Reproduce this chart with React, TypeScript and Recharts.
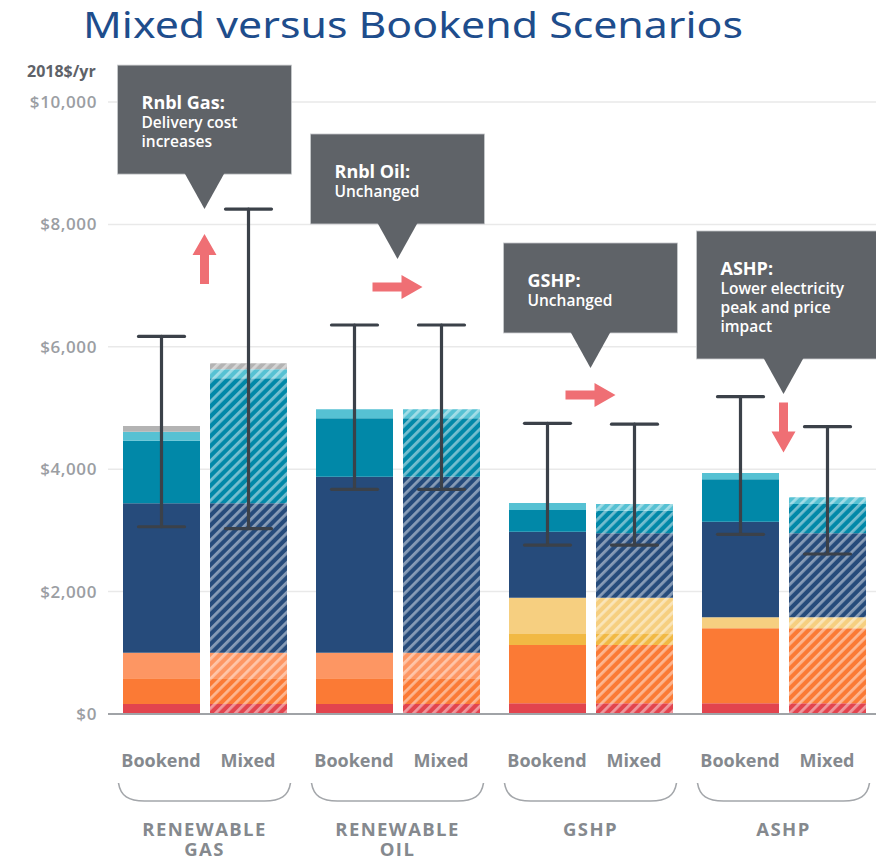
import React from "react";
import { BarChart, Bar, XAxis, YAxis, CartesianGrid, ErrorBar, ReferenceDot } from "recharts";

const categories = ["RENEWABLE GAS", "RENEWABLE OIL", "GSHP", "ASHP"];
const groupLines = [["RENEWABLE", "GAS"], ["RENEWABLE", "OIL"], ["GSHP"], ["ASHP"]];
const scenarios = ["Bookend", "Mixed"];
const yTicks = [0, 2000, 4000, 6000, 8000, 10000];

// stacked cost segments, bottom to top (2018$/yr)
const bookendRed = [165, 165, 174, 174];
const bookendOrange = [418, 418, 953, 1226];
const bookendSalmon = [417, 417, 0, 0];
const bookendAmber = [0, 0, 180, 0];
const bookendYellow = [0, 0, 594, 180];
const bookendNavy = [2443, 2878, 1078, 1563];
const bookendTeal = [1023, 953, 354, 692];
const bookendCyan = [147, 147, 115, 103];
const bookendGray = [93, 0, 0, 0];

const mixedRed = [165, 165, 174, 174];
const mixedOrange = [418, 418, 953, 1226];
const mixedSalmon = [417, 417, 0, 0];
const mixedAmber = [0, 0, 180, 0];
const mixedYellow = [0, 0, 594, 180];
const mixedNavy = [2443, 2878, 1051, 1372];
const mixedTeal = [2042, 953, 370, 479];
const mixedCyan = [147, 147, 109, 109];
const mixedGray = [98, 0, 0, 0];

// uncertainty ranges
const bookendLow = [3060, 3671, 2761, 2936];
const bookendHigh = [6170, 6356, 4750, 5185];
const mixedLow = [3028, 3671, 2761, 2614];
const mixedHigh = [8250, 6356, 4735, 4695];

// callouts and arrows
const calloutTips = [8250, 7435, 5654, 5229];
const calloutTitles = ["Rnbl Gas:", "Rnbl Oil:", "GSHP:", "ASHP:"];
const calloutText = [["Delivery cost", "increases"], ["Unchanged"], ["Unchanged"], ["Lower electricity", "peak and price", "impact"]];
const arrowValues = [7435, 6977, 5212, 4681];
const arrowDirs = ["up", "right", "right", "down"];

const segments = [
  { key: "red", color: "#e2444e", b: bookendRed, m: mixedRed },
  { key: "orange", color: "#fb7a35", b: bookendOrange, m: mixedOrange },
  { key: "salmon", color: "#fd9663", b: bookendSalmon, m: mixedSalmon },
  { key: "amber", color: "#f1b944", b: bookendAmber, m: mixedAmber },
  { key: "yellow", color: "#f6cf80", b: bookendYellow, m: mixedYellow },
  { key: "navy", color: "#264b7b", b: bookendNavy, m: mixedNavy },
  { key: "teal", color: "#0188a8", b: bookendTeal, m: mixedTeal },
  { key: "cyan", color: "#56c1d3", b: bookendCyan, m: mixedCyan },
  { key: "gray", color: "#b3b3b3", b: bookendGray, m: mixedGray },
];
// error bars hang on the cyan segment, which is present in every stack
const ERR_SEG = 7;

const data = categories.map((cat, i) => {
  const row: any = { cat };
  let bTop = 0;
  let mTop = 0;
  segments.forEach((s, k) => {
    row["b_" + s.key] = s.b[i];
    row["m_" + s.key] = s.m[i];
    if (k <= ERR_SEG) {
      bTop += s.b[i];
      mTop += s.m[i];
    }
  });
  row.bErr = [bTop - bookendLow[i], bookendHigh[i] - bTop];
  row.mErr = [mTop - mixedLow[i], mixedHigh[i] - mTop];
  return row;
});

const FONT = "'Open Sans', 'Noto Sans', sans-serif";
const LABEL_GRAY = "#85898e";

const GroupTick = (props: any) => {
  const { x, y, payload } = props;
  const i = categories.indexOf(payload.value);
  const lines = groupLines[i] || [];
  return (
    <g fontFamily={FONT} fontWeight={700} fill={LABEL_GRAY}>
      <text x={x - 43.5} y={y + 53} textAnchor="middle" fontSize={18}>{scenarios[0]}</text>
      <text x={x + 43.5} y={y + 53} textAnchor="middle" fontSize={18}>{scenarios[1]}</text>
      <path
        d={`M${x - 86},${y + 69} C${x - 84},${y + 82} ${x - 76},${y + 87} ${x - 60},${y + 87} L${x + 60},${y + 87} C${x + 76},${y + 87} ${x + 84},${y + 82} ${x + 86},${y + 69}`}
        fill="none"
        stroke="#a3a6aa"
        strokeWidth={1.6}
      />
      {lines.map((l, k) => (
        <text key={k} x={x} y={y + 122 + k * 20} textAnchor="middle" fontSize={18.5} letterSpacing={1.4}>{l}</text>
      ))}
    </g>
  );
};

const Callout = ({ cx, cy, i }: any) => {
  const body = calloutText[i];
  const w = i === 3 ? 183 : 174;
  const h = 45 + 19 * body.length + 26;
  const bottom = cy - 35;
  const top = bottom - h;
  const left = cx - 87;
  return (
    <g>
      <rect x={left} y={top} width={w} height={h} fill="#5f6368" stroke="#c9cbce" strokeWidth={0.8} />
      <polygon points={`${cx - 20},${bottom - 1} ${cx + 20},${bottom - 1} ${cx},${cy}`} fill="#5f6368" />
      <text x={left + 24} y={top + 44} fill="#ffffff" fontFamily={FONT} fontWeight={700} fontSize={18}>{calloutTitles[i]}</text>
      {body.map((t, k) => (
        <text key={k} x={left + 24} y={top + 44 + 19 * (k + 1)} fill="#ffffff" fontFamily={FONT} fontWeight={600} fontSize={15.5}>{t}</text>
      ))}
    </g>
  );
};

const Arrow = ({ cx, cy, dir }: any) => {
  const rot = dir === "right" ? 90 : dir === "down" ? 180 : 0;
  const pts = [[0, -25], [12, -4], [4.5, -4], [4.5, 25], [-4.5, 25], [-4.5, -4], [-12, -4]]
    .map((p) => p.join(","))
    .join(" ");
  return <polygon points={pts} transform={`translate(${cx},${cy}) rotate(${rot})`} fill="#ef6f74" />;
};

export default function App() {
  return (
    <div style={{ position: "relative", width: 876, height: 852 }}>
      <svg width={0} height={0} style={{ position: "absolute" }}>
        <defs>
          {segments.map((s) => (
            <pattern key={s.key} id={`hatch-${s.key}`} patternUnits="userSpaceOnUse" width={7} height={7} patternTransform="rotate(45)">
              <rect width={7} height={7} fill={s.color} />
              <rect width={2.8} height={7} fill="#ffffff" fillOpacity={0.45} />
            </pattern>
          ))}
        </defs>
      </svg>
      <BarChart
        width={876}
        height={852}
        data={data}
        margin={{ top: 94, right: 4, bottom: 0, left: 0 }}
        barSize={77}
        barGap={10}
      >
        <CartesianGrid vertical={false} stroke="#e9e9e9" strokeWidth={1.5} />
        <XAxis
          dataKey="cat"
          height={146}
          tickLine={false}
          tickSize={0}
          tickMargin={0}
          axisLine={{ stroke: "#a0a3a7", strokeWidth: 2 }}
          tick={<GroupTick />}
          interval={0}
        />
        <YAxis
          width={100}
          domain={[0, 10000]}
          ticks={yTicks}
          axisLine={false}
          tickLine={false}
          tickSize={0}
          tickMargin={11}
          tickFormatter={(v: number) => "$" + v.toLocaleString("en-US")}
          tick={{ fill: "#9b9ea3", fontSize: 17, fontWeight: 600, fontFamily: FONT, letterSpacing: 0.6 }}
        />
        {segments.map((s, k) => (
          <Bar key={"b" + s.key} dataKey={"b_" + s.key} stackId="bookend" fill={s.color} isAnimationActive={false}>
            {k === ERR_SEG && (
              <ErrorBar dataKey="bErr" direction="y" width={23} stroke="#3b4149" strokeWidth={3.2} strokeLinecap="round" />
            )}
          </Bar>
        ))}
        {segments.map((s, k) => (
          <Bar key={"m" + s.key} dataKey={"m_" + s.key} stackId="mixed" fill={`url(#hatch-${s.key})`} isAnimationActive={false}>
            {k === ERR_SEG && (
              <ErrorBar dataKey="mErr" direction="y" width={23} stroke="#3b4149" strokeWidth={3.2} strokeLinecap="round" />
            )}
          </Bar>
        ))}
        {categories.map((c, i) => (
          <ReferenceDot key={"a" + i} x={c} y={arrowValues[i]} r={1} shape={(p: any) => <Arrow {...p} dir={arrowDirs[i]} />} />
        ))}
        {categories.map((c, i) => (
          <ReferenceDot key={"c" + i} x={c} y={calloutTips[i]} r={1} shape={(p: any) => <Callout {...p} i={i} />} />
        ))}
      </BarChart>
      <svg width={876} height={100} style={{ position: "absolute", left: 0, top: -8, pointerEvents: "none" }}>
        <text x={75} y={38} fill="#1e4d8c" fontFamily="'Noto Sans', sans-serif" fontSize={37} textLength={660} lengthAdjust="spacingAndGlyphs">
          Mixed versus Bookend Scenarios
        </text>
        <text x={19} y={77} fill="#5e6268" fontFamily={FONT} fontWeight={700} fontSize={16}>
          2018$/yr
        </text>
      </svg>
    </div>
  );
}
